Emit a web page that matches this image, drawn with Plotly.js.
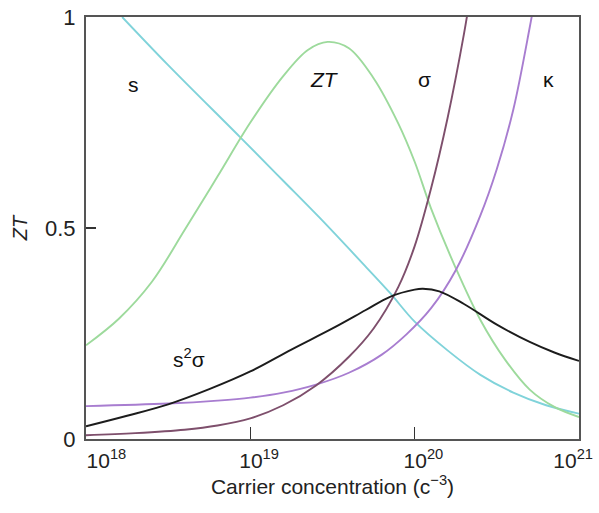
<!DOCTYPE html>
<html>
<head>
<meta charset="utf-8">
<script src="https://cdn.plot.ly/plotly-3.0.1.min.js"></script>
<style>html,body{margin:0;padding:0;background:#fff;}#chart{width:599px;height:513px;}</style>
</head>
<body>
<div id="chart"></div>
<script>
// x values are log10 of carrier concentration (per cm^3)
const sExp = [18.22, 18.5, 18.936, 19.2, 19.42, 19.71, 19.85, 20.0, 20.2, 20.4, 20.6, 20.8, 21.0];
const sVal = [1.0, 0.886, 0.716, 0.612, 0.525, 0.405, 0.346, 0.278, 0.210, 0.152, 0.110, 0.080, 0.060];

const ztExp = [18.0, 18.2, 18.4, 18.6, 18.8, 19.0, 19.2, 19.35, 19.47, 19.6, 19.75, 19.9, 20.0, 20.1, 20.25, 20.4, 20.55, 20.7, 20.85, 21.0];
const ztVal = [0.222, 0.285, 0.372, 0.495, 0.622, 0.750, 0.860, 0.922, 0.941, 0.926, 0.855, 0.748, 0.657, 0.546, 0.405, 0.282, 0.188, 0.117, 0.076, 0.052];

const s2sExp = [18.0, 18.25, 18.5, 18.75, 19.0, 19.25, 19.5, 19.7, 19.85, 20.0, 20.05, 20.15, 20.3, 20.5, 20.7, 20.85, 21.0];
const s2sVal = [0.030, 0.055, 0.082, 0.118, 0.160, 0.212, 0.262, 0.305, 0.337, 0.354, 0.356, 0.350, 0.320, 0.271, 0.230, 0.205, 0.185];

const kappaExp = [18.0, 18.5, 18.8, 19.0, 19.2, 19.4, 19.6, 19.8, 19.95, 20.1, 20.25, 20.4, 20.5, 20.6, 20.7, 20.73];
const kappaVal = [0.078, 0.084, 0.091, 0.098, 0.110, 0.129, 0.157, 0.200, 0.248, 0.310, 0.400, 0.530, 0.640, 0.780, 0.975, 1.04];

const sigmaExp = [18.0, 18.3, 18.6, 18.8, 19.0, 19.2, 19.4, 19.6, 19.75, 19.9, 20.0, 20.1, 20.2, 20.3, 20.33];
const sigmaVal = [0.009, 0.014, 0.022, 0.032, 0.049, 0.080, 0.127, 0.195, 0.262, 0.360, 0.457, 0.594, 0.760, 0.960, 1.03];

const xTickVals = [1e18, 1e19, 1e20, 1e21];
const xTickText = [
  '\u00a0\u00a0\u00a0\u00a0\u00a0\u00a0\u00a010<sup>18</sup>',
  '\u00a0\u00a0\u00a010<sup>19</sup>',
  '\u00a0\u00a0\u00a010<sup>20</sup>',
  '10<sup>21</sup>\u00a0\u00a0'
];
const yTickVals = [0, 0.5, 1];
const yTickText = ['0', '0.5', '1'];

const toN = a => a.map(e => Math.pow(10, e));

function line(xe, y, color, name) {
  return {x: toN(xe), y: y, type: 'scatter', mode: 'lines', name: name,
    line: {color: color, width: 1.9, shape: 'spline', smoothing: 1}, hoverinfo: 'skip'};
}

const data = [
  line(sExp, sVal, '#80d3da', 's'),
  line(ztExp, ztVal, '#9dda9c', 'ZT'),
  line(kappaExp, kappaVal, '#a87dd0', 'κ'),
  line(sigmaExp, sigmaVal, '#7e4f6c', 'σ'),
  line(s2sExp, s2sVal, '#1c1c1c', 's²σ')
];

const FAM = 'Liberation Sans, Arial, sans-serif';
const annFont = {family: FAM, size: 21, color: '#111'};

const layout = {
  width: 599, height: 513,
  margin: {l: 86, r: 20, t: 17, b: 74},
  paper_bgcolor: '#fff', plot_bgcolor: '#fff',
  showlegend: false,
  font: {family: FAM, size: 20, color: '#222'},
  xaxis: {
    type: 'log', range: [18, 21],
    tickvals: xTickVals, ticktext: xTickText,
    ticks: 'inside', ticklen: 12, tickwidth: 1.5, tickcolor: '#333',
    ticklabelstandoff: 2, ticklabeloverflow: 'allow',
    showline: true, linecolor: '#555', linewidth: 2, mirror: true,
    showgrid: false, zeroline: false,
    tickfont: {family: FAM, size: 21, color: '#222'},
    title: {text: 'Carrier concentration (c<sup>−3</sup>)', standoff: 8,
      font: {family: FAM, size: 21, color: '#222'}}
  },
  yaxis: {
    range: [0, 1],
    tickvals: yTickVals, ticktext: yTickText,
    ticks: 'inside', ticklen: 10, tickwidth: 1.5, tickcolor: '#333',
    ticklabelstandoff: 4,
    showline: true, linecolor: '#555', linewidth: 2, mirror: true,
    showgrid: false, zeroline: false,
    tickfont: {family: FAM, size: 22, color: '#222'},
    title: {text: '<i>ZT</i>', standoff: 12,
      font: {family: FAM, size: 20, color: '#222'}}
  },
  annotations: [
    {x: 18.29, y: 0.839, text: 's', showarrow: false, font: annFont},
    {x: 19.453, y: 0.851, text: '<i>ZT</i>', showarrow: false, font: annFont},
    {x: 20.06, y: 0.851, text: 'σ', showarrow: false, font: annFont},
    {x: 20.815, y: 0.851, text: 'κ', showarrow: false, font: annFont},
    {x: 18.626, y: 0.192, text: 's<sup>2</sup>σ', showarrow: false, font: annFont}
  ]
};

Plotly.newPlot('chart', data, layout, {displayModeBar: false, staticPlot: true});
</script>
</body>
</html>
